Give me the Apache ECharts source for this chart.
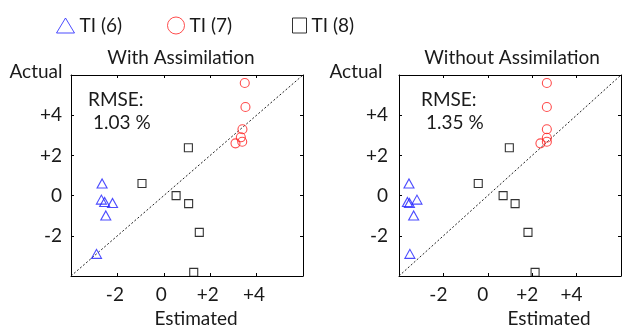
<!DOCTYPE html>
<html><head><meta charset="utf-8">
<script src="https://cdn.jsdelivr.net/npm/echarts@6/dist/echarts.min.js"></script>
<style>html,body{margin:0;padding:0;background:#fff}#c{width:624px;height:331px}</style>
</head><body><div id="c"></div><script>
// ---- data ----
const seriesNames = ['TI (6)', 'TI (7)', 'TI (8)'];
const panelTitles = ['With Assimilation', 'Without Assimilation'];
const rmseLabels = ['1.03 %', '1.35 %'];
const axisTickValues = [-2, 0, 2, 4];
const ti6With = [[-2.66, 0.6], [-2.69, -0.2], [-2.55, -0.32], [-2.21, -0.37], [-2.5, -0.99], [-2.9, -2.9]];
const ti7With = [[3.49, 5.6], [3.52, 4.41], [3.39, 3.3], [3.32, 2.9], [3.38, 2.68], [3.09, 2.6]];
const ti8With = [[1.06, 2.38], [-0.94, 0.6], [0.53, 0.0], [1.07, -0.4], [1.53, -1.83], [1.29, -3.82]];
const ti6Without = [[-3.55, 0.6], [-3.19, -0.2], [-3.62, -0.32], [-3.53, -0.37], [-3.34, -0.99], [-3.51, -2.9]];
const ti7Without = [[2.66, 5.6], [2.66, 4.41], [2.66, 3.3], [2.66, 2.88], [2.66, 2.68], [2.37, 2.6]];
const ti8Without = [[0.97, 2.38], [-0.43, 0.6], [0.69, 0.0], [1.23, -0.4], [1.81, -1.83], [2.13, -3.82]];
const identityLine = [[-4, -4], [6, 6]];
const axisMin = -4, axisMax = 6;

// ---- styling ----
const FONT = 'Lato';
const TXT = '#1a1a1a';
const FS = 19;
const colors = ['#1f1fff', '#ff2020', '#000000'];
const symbols = ['triangle', 'circle', 'rect'];
const symSizes = [[10, 9], 9, 8];
const grids = [
  { left: 71, top: 75, width: 232, height: 201 },
  { left: 399, top: 75, width: 232, height: 201 }
];
const fmt = v => (axisTickValues.indexOf(v) < 0 ? '' : (v > 0 ? '+' + v : String(v)));

const xAxes = [], yAxes = [], series = [];
grids.forEach((g, gi) => {
  ['bottom', 'top'].forEach((pos, k) => {
    xAxes.push({
      gridIndex: gi, type: 'value', min: axisMin, max: axisMax, interval: 2, position: pos,
      axisLine: { onZero: false, lineStyle: { color: '#000', width: 1 } },
      axisTick: { inside: true, length: 3, lineStyle: { color: '#000' } },
      splitLine: { show: false },
      axisLabel: { show: k === 0, formatter: fmt, fontFamily: FONT, fontSize: FS, color: TXT, margin: 9,
                   padding: [0, gi === 0 ? 5 : 10, 0, 0] }
    });
  });
  ['left', 'right'].forEach((pos, k) => {
    yAxes.push({
      gridIndex: gi, type: 'value', min: axisMin, max: axisMax, interval: 2, position: pos,
      axisLine: { onZero: false, lineStyle: { color: '#000', width: 1 } },
      axisTick: { inside: true, length: 3, lineStyle: { color: '#000' } },
      splitLine: { show: false },
      axisLabel: { show: k === 0, formatter: fmt, fontFamily: FONT, fontSize: FS, color: TXT, margin: gi === 0 ? 9 : 11 }
    });
  });
  const axIdx = gi * 2;
  series.push({
    type: 'line', xAxisIndex: axIdx, yAxisIndex: axIdx, data: identityLine, symbol: 'none',
    lineStyle: { color: '#222', width: 1, type: [2, 2] }, silent: true, z: 1
  });
  const sets = gi === 0 ? [ti6With, ti7With, ti8With] : [ti6Without, ti7Without, ti8Without];
  sets.forEach((d, si) => {
    series.push({
      name: seriesNames[si], type: 'scatter', xAxisIndex: axIdx, yAxisIndex: axIdx, data: d,
      symbol: symbols[si], symbolSize: symSizes[si],
      itemStyle: { color: 'rgba(0,0,0,0)', borderColor: colors[si], borderWidth: 1.1 }, z: 3
    });
  });
});

const legendLefts = [51, 162, 287];
const legendSizes = [[18, 15], [17, 17], [14, 15]];
const legends = seriesNames.map((n, i) => ({
  data: [n], left: legendLefts[i], top: 11, itemWidth: legendSizes[i][0], itemHeight: legendSizes[i][1], itemGap: 10,
  selectedMode: false,
  itemStyle: { borderWidth: 1, color: 'rgba(0,0,0,0)', borderColor: colors[i] },
  textStyle: { fontFamily: FONT, fontSize: FS, color: TXT }
}));

const txt = (x, y, s, align) => ({
  type: 'text', x: x, y: y,
  style: { text: s, fontFamily: FONT, fontSize: FS, fill: TXT, align: align || 'center', verticalAlign: 'middle' }
});
const graphic = [
  txt(181, 58, panelTitles[0]), txt(512, 58, panelTitles[1]),
  txt(36, 72, 'Actual'), txt(356, 72, 'Actual'),
  txt(196, 319, 'Estimated'), txt(549, 319, 'Estimated'),
  txt(88, 100, 'RMSE:', 'left'), txt(93, 123, rmseLabels[0], 'left'),
  txt(421, 100, 'RMSE:', 'left'), txt(426, 123, rmseLabels[1], 'left')
];

const chart = echarts.init(document.getElementById('c'), null, { renderer: 'canvas' });
chart.setOption({
  animation: false,
  backgroundColor: '#fff',
  grid: grids.map(g => Object.assign({ containLabel: false }, g)),
  xAxis: xAxes, yAxis: yAxes, series: series, legend: legends, graphic: graphic
});
</script></body></html>
